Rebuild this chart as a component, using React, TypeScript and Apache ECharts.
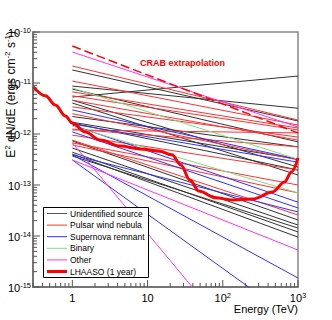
import React, { useEffect, useRef } from 'react';
import * as echarts from 'echarts';

const FONT = '"Liberation Sans", Arial, Helvetica, sans-serif';

// Every source spectrum is drawn from 1 TeV to 1000 TeV
const energyRange = [1, 1000];

// [E² dN/dE at 1 TeV, E² dN/dE at 1000 TeV]  (erg cm^-2 s^-1)
const unidentified: number[][] = [
  [5.3e-12, 1.37e-11],
  [8.7e-12, 3.2e-12],
  [1.8e-11, 1.8e-12],
  [7.6e-12, 7.0e-13],
  [4.6e-12, 2.25e-13],
  [4.05e-12, 1.57e-13],
  [1.64e-12, 1.97e-13],
  [2.2e-12, 5.6e-13],
  [1.7e-12, 3.2e-13],
  [7.3e-13, 2.06e-14],
  [5.3e-13, 1.64e-14],
  [4.4e-13, 1.2e-14],
  [4.05e-13, 9.5e-15],
  [3.7e-13, 1.43e-14],
];
const pulsarWindNebula: number[][] = [
  [2.15e-11, 1.88e-12],
  [1.09e-11, 1.5e-12],
  [6.7e-12, 1.31e-12],
  [5.6e-12, 1.2e-12],
  [4.6e-12, 7.6e-13],
  [3.4e-12, 8.7e-13],
  [2.5e-12, 3.1e-13],
  [1.25e-12, 5.6e-13],
  [1.2e-12, 1.05e-12],
  [9.5e-13, 1.97e-13],
  [7.6e-13, 2.58e-14],
  [6.7e-13, 1.0e-13],
  [6.1e-13, 7.0e-14],
];
const supernovaRemnant: number[][] = [
  [2.96e-12, 3.2e-13],
  [1.57e-12, 2.8e-13],
  [1.5e-12, 4.6e-14],
  [1.1e-12, 3.55e-14],
  [3.9e-13, 2.96e-14],
  [3.9e-13, 1.5e-15],
  [3.1e-13, 2.0e-16],
];
const binary: number[][] = [
  [8.0e-12, 3.2e-13],
  [1.43e-12, 7.0e-14],
];
const other: number[][] = [
  [4.05e-11, 1.37e-12],
  [6.7e-13, 3.2e-18],
  [3.1e-13, 5.3e-15],
];
const crabExtrapolation = [5.3e-11, 1.05e-12];

// LHAASO 1-year sensitivity curve
const lhaasoEnergy = [0.304, 0.439, 0.595, 0.808, 1, 1.49, 2.35, 4.32, 7.96, 14.6, 21.1, 27.8, 36.5, 48.1, 80.7, 136, 250, 459, 662, 820, 1000];
const lhaasoSensitivity = [8.4e-12, 5.6e-12, 3.7e-12, 2.25e-12, 1.64e-12, 1.09e-12, 7.6e-13, 5.8e-13, 5.1e-13, 4.6e-13, 3.9e-13, 2.47e-13, 1.25e-13, 7.6e-14, 5.6e-14, 5.1e-14, 5.3e-14, 7.3e-14, 1.15e-13, 1.8e-13, 3.4e-13];

const legendItems = [
  { name: 'Unidentified source', color: '#555555', width: 1 },
  { name: 'Pulsar wind nebula', color: '#ff3030', width: 1 },
  { name: 'Supernova remnant', color: '#3030ff', width: 1 },
  { name: 'Binary', color: '#7edc7e', width: 1 },
  { name: 'Other', color: '#ff30ff', width: 1 },
  { name: 'LHAASO (1 year)', color: '#ff0000', width: 3 },
];

const X_MIN = 0.3, X_MAX = 1000, Y_MIN = 1e-15, Y_MAX = 1e-10;

function pow10Label(v: number, isX: boolean): string {
  const l = Math.log10(v);
  const r = Math.round(l);
  if (Math.abs(l - r) > 1e-6) return '';
  if (isX && r === 0) return '{b|1}';
  if (isX && r === 1) return '{b|10}';
  return `{b|10}{s|${r}}`;
}

const labelRich = {
  b: { fontSize: 11, lineHeight: 12, verticalAlign: 'bottom', fontFamily: FONT, color: '#000' },
  s: { fontSize: 7.5, verticalAlign: 'top', fontFamily: FONT, color: '#000' },
};

function lineSeries(pairs: number[][], name: string, color: string) {
  return pairs.map(([a, b]) => ({
    type: 'line',
    name,
    data: [[energyRange[0], a], [energyRange[1], b]],
    symbol: 'none',
    silent: true,
    lineStyle: { color, width: 1 },
    z: 2,
  }));
}

function buildTicks(): number[][] {
  const t: number[][] = [];
  for (let k = -1; k <= 3; k++) {
    for (let m = 1; m <= 9; m++) {
      const v = m * Math.pow(10, k);
      if (v < X_MIN * 0.999 || v > X_MAX * 1.001) continue;
      t.push([v, Y_MIN, m === 1 ? 0 : 1]);
    }
  }
  for (let k = -15; k <= -10; k++) {
    for (let m = 1; m <= 9; m++) {
      const v = m * Math.pow(10, k);
      if (v > Y_MAX * 1.001) continue;
      t.push([X_MIN, v, m === 1 ? 2 : 3]);
    }
  }
  return t;
}

export default function App() {
  const ref = useRef<HTMLDivElement>(null);
  useEffect(() => {
    document.body.style.margin = '0';
    const chart = echarts.init(ref.current!, undefined, { renderer: 'svg' });

    const legendGraphics: any[] = [
      {
        type: 'rect',
        shape: { x: 43.5, y: 207.5, width: 105, height: 70 },
        style: { fill: '#fff', stroke: '#000', lineWidth: 1 },
        z: 100,
      },
    ];
    legendItems.forEach((it, i) => {
      const yy = 213.5 + i * 11.6;
      legendGraphics.push({
        type: 'line',
        shape: { x1: 47, y1: yy, x2: 67, y2: yy },
        style: { stroke: it.color, lineWidth: it.width },
        z: 101,
      });
      legendGraphics.push({
        type: 'text',
        x: 70,
        y: yy,
        style: { text: it.name, fontSize: 8.5, fontFamily: FONT, fill: '#000', align: 'left', verticalAlign: 'middle' },
        z: 101,
      });
    });

    const option: any = {
      animation: false,
      grid: { left: 33, top: 32, right: 34, bottom: 33, show: true, borderColor: '#888', borderWidth: 1.5 },
      xAxis: {
        type: 'log',
        logBase: 10,
        min: X_MIN,
        max: X_MAX,
        axisLine: { show: true, lineStyle: { color: '#666', width: 1.5 } },
        axisTick: { show: false },
        splitLine: { show: false },
        axisLabel: {
          margin: 4,
          showMinLabel: true,
          showMaxLabel: true,
          formatter: (v: number) => pow10Label(v, true),
          rich: labelRich,
        },
      },
      yAxis: {
        type: 'log',
        logBase: 10,
        min: Y_MIN,
        max: Y_MAX,
        axisLine: { show: true, lineStyle: { color: '#666', width: 1.5 } },
        axisTick: { show: false },
        splitLine: { show: false },
        axisLabel: {
          margin: 2,
          showMinLabel: true,
          showMaxLabel: true,
          formatter: (v: number) => pow10Label(v, false),
          rich: labelRich,
        },
      },
      series: [
        ...lineSeries(unidentified, 'Unidentified source', '#333333'),
        ...lineSeries(pulsarWindNebula, 'Pulsar wind nebula', '#ff3030'),
        ...lineSeries(supernovaRemnant, 'Supernova remnant', '#3030ff'),
        ...lineSeries(binary, 'Binary', '#7edc7e'),
        ...lineSeries(other, 'Other', '#ff30ff'),
        {
          type: 'line',
          name: 'CRAB extrapolation',
          data: [[energyRange[0], crabExtrapolation[0]], [energyRange[1], crabExtrapolation[1]]],
          symbol: 'none',
          silent: true,
          lineStyle: { color: '#ff0000', width: 1.5, type: [9, 4] },
          z: 3,
        },
        {
          type: 'line',
          name: 'LHAASO (1 year)',
          data: lhaasoEnergy.map((e, i) => [e, lhaasoSensitivity[i]]),
          symbol: 'none',
          smooth: 0.35,
          smoothMonotone: 'x',
          silent: true,
          lineStyle: { color: '#ff0000', width: 3 },
          z: 4,
        },
        {
          type: 'custom',
          name: 'ticks',
          silent: true,
          data: buildTicks(),
          z: 5,
          renderItem: (_p: any, api: any) => {
            const kind = api.value(2);
            const p = api.coord([api.value(0), api.value(1)]);
            const len = kind === 0 || kind === 2 ? 7 : 4;
            const shape = kind < 2
              ? { x1: p[0], y1: p[1], x2: p[0], y2: p[1] - len }
              : { x1: p[0], y1: p[1], x2: p[0] + len, y2: p[1] };
            return { type: 'line', shape, style: { stroke: '#555', lineWidth: 1 } };
          },
        },
      ],
      graphic: [
        {
          type: 'text',
          x: 10,
          y: 31,
          rotation: Math.PI / 2,
          z: 100,
          style: {
            text: '{b|E}{s|2}{b| dN/dE (ergs cm}{s|-2}{b| s}{s|-1}{b|)}',
            rich: {
              b: { fontSize: 12, lineHeight: 13, verticalAlign: 'bottom', fontFamily: FONT, fill: '#000' },
              s: { fontSize: 8, verticalAlign: 'top', fontFamily: FONT, fill: '#000' },
            },
            align: 'right',
            verticalAlign: 'middle',
          },
        },
        {
          type: 'text',
          x: 298,
          y: 309,
          z: 100,
          style: { text: 'Energy (TeV)', fontSize: 11, fontFamily: FONT, fill: '#000', align: 'right', verticalAlign: 'middle' },
        },
        {
          type: 'text',
          x: 140,
          y: 63,
          z: 100,
          style: { text: 'CRAB extrapolation', fontSize: 9, fontWeight: 'bold', fontFamily: FONT, fill: '#ff0000', align: 'left', verticalAlign: 'middle' },
        },
        ...legendGraphics,
      ],
    };
    chart.setOption(option);
    return () => chart.dispose();
  }, []);
  return <div ref={ref} style={{ width: 332, height: 320 }} />;
}
